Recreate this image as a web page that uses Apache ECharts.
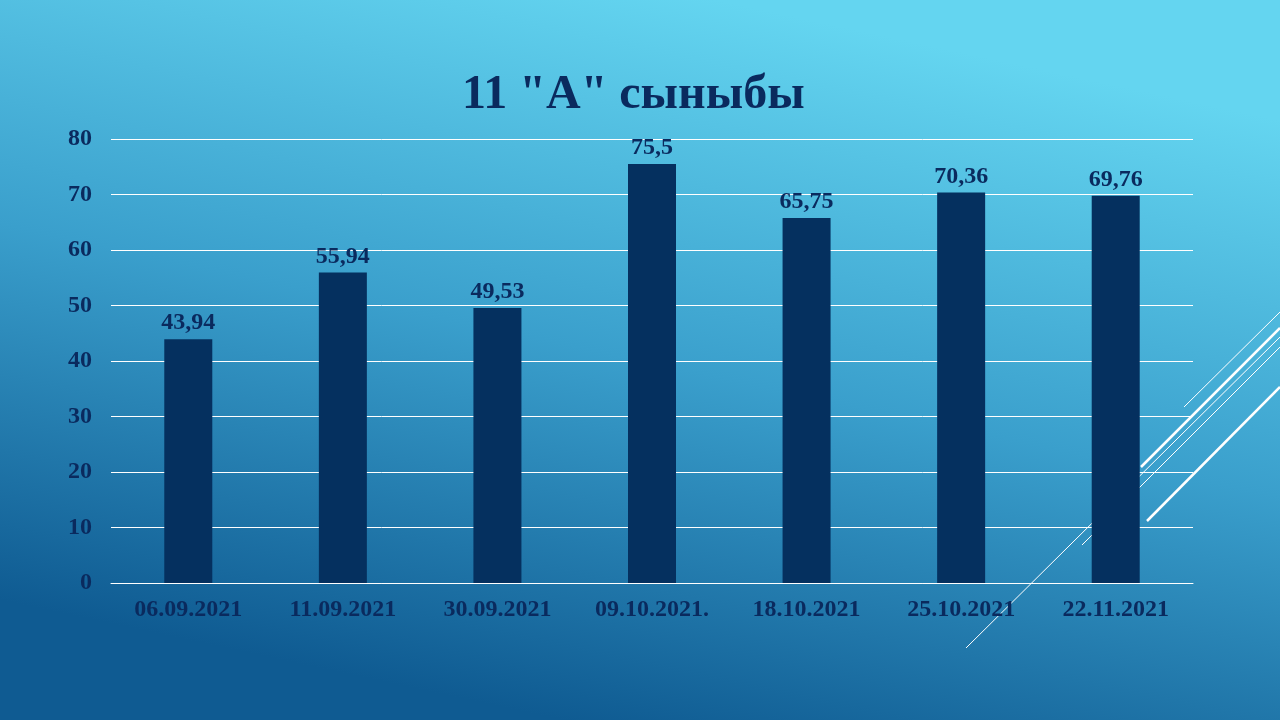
<!DOCTYPE html>
<html><head><meta charset="utf-8">
<script src="https://cdn.jsdelivr.net/npm/echarts@6/dist/echarts.min.js"></script>
<style>html,body{margin:0;padding:0;}#c{width:1280px;height:720px;}</style>
</head><body><div id="c"></div>
<script>
const categories = ['06.09.2021','11.09.2021','30.09.2021','09.10.2021.','18.10.2021','25.10.2021','22.11.2021'];
const values = [43.94, 55.94, 49.53, 75.5, 65.75, 70.36, 69.76];
const yTicks = [0,10,20,30,40,50,60,70,80];
const titleText = '11 "A" сыныбы';

const chart = echarts.init(document.getElementById('c'));
const dark = '#0a2a5e';
const font = '"Liberation Serif","Times New Roman",serif';
function seg(x1,y1,x2,y2,w){return {type:'line',z:-1,shape:{x1,y1,x2,y2},style:{stroke:'#ffffff',lineWidth:w}};}
chart.setOption({
  backgroundColor: {type:'linear',x:0.56,y:0,x2:0.44,y2:1,colorStops:[
    {offset:0,color:'#64d5f0'},{offset:0.5,color:'#3a9fcc'},{offset:1,color:'#0f5b92'}]},
  title:{text:titleText,left:457,top:67,textStyle:{fontFamily:font,fontWeight:'bold',fontSize:48,color:dark}},
  graphic:[
    seg(966,648,1280,337,1),
    seg(1082,545,1280,347,1),
    seg(1141,467,1280,328,2.5),
    seg(1184,407,1280,312,1),
    seg(1147,521,1280,387,2.5)
  ],
  grid:{left:111,right:87,top:139,bottom:137},
  xAxis:{type:'category',data:categories,
    axisLine:{show:true,lineStyle:{color:'#ffffff',width:1}},axisTick:{show:false},
    axisLabel:{color:dark,fontFamily:font,fontWeight:'bold',fontSize:24,margin:15}},
  yAxis:{type:'value',min:yTicks[0],max:yTicks[yTicks.length-1],interval:10,
    axisLine:{show:false},axisTick:{show:false},
    splitLine:{lineStyle:{color:'#ffffff',width:1}},
    axisLabel:{color:dark,fontFamily:font,fontWeight:'bold',fontSize:24,margin:19}},
  series:[{type:'bar',data:values,barWidth:48,itemStyle:{color:'#05305f'},
    label:{show:true,position:'top',distance:4,color:dark,fontFamily:font,fontWeight:'bold',fontSize:24,
      formatter:p=>String(p.value).replace('.',',')}}]
});
</script></body></html>
